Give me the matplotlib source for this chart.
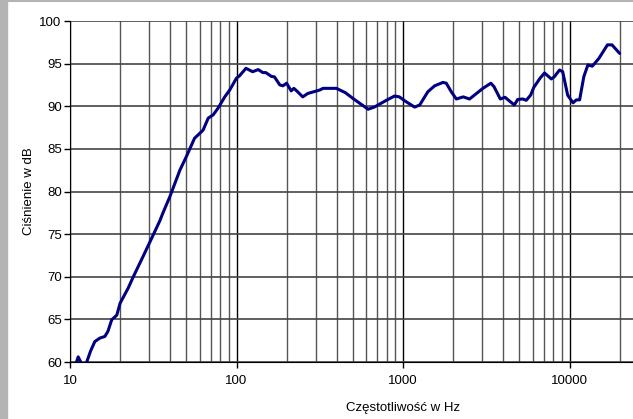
import numpy as np
import matplotlib
matplotlib.use("Agg")
import matplotlib.pyplot as plt
from matplotlib.ticker import LogLocator, FuncFormatter, NullFormatter, MultipleLocator
from matplotlib.patches import Rectangle
from matplotlib.lines import Line2D

# dane: czestotliwosc [Hz] i cisnienie [dB]
freq = [10.8, 10.9, 11.2, 11.6, 12.0, 12.6, 13.3, 14.1, 15.1, 16.2, 16.9, 17.8,
        19.1, 20, 22.4, 24, 27.5, 31.6, 34.7, 36, 39.8, 45.7, 50, 56, 60, 63,
        67.6, 72.5, 77.6, 85, 91, 100, 104, 114, 125, 135, 144, 150, 162, 169,
        182, 190, 200, 213, 221, 230, 250, 268, 316, 331, 398, 450, 502, 617,
        672, 795, 890, 950, 1050, 1175, 1260, 1410, 1550, 1740, 1820, 1950,
        2090, 2300, 2510, 3020, 3370, 3520, 3840, 4100, 4660, 4890, 5240, 5500,
        5840, 6100, 6660, 7080, 7780, 8100, 8710, 9100, 9750, 10500, 11000,
        11500, 12200, 12900, 13700, 15000, 16900, 18000, 20000]
spl = [59.0, 59.9, 60.6, 60.0, 59.4, 60.0, 61.3, 62.4, 62.8, 63.0, 63.6, 64.95,
       65.5, 66.9, 68.7, 70.0, 72.4, 74.9, 76.6, 77.4, 79.4, 82.5, 84.1, 86.25,
       86.8, 87.2, 88.6, 89.0, 89.8, 91.1, 91.9, 93.3, 93.55, 94.45, 94.05,
       94.3, 93.95, 93.95, 93.5, 93.45, 92.5, 92.4, 92.7, 91.8, 92.1, 91.8,
       91.1, 91.5, 91.9, 92.1, 92.1, 91.6, 90.9, 89.65, 89.9, 90.7, 91.2, 91.1,
       90.5, 89.9, 90.15, 91.7, 92.4, 92.8, 92.7, 91.7, 90.85, 91.1, 90.85,
       92.1, 92.7, 92.3, 90.85, 91.05, 90.15, 90.8, 90.85, 90.7, 91.3, 92.2,
       93.3, 93.9, 93.2, 93.45, 94.25, 94.05, 91.3, 90.4, 90.75, 90.75, 93.5,
       94.85, 94.7, 95.6, 97.2, 97.2, 96.2]

plt.rcParams['font.family'] = ['Liberation Sans', 'DejaVu Sans']

fig = plt.figure(figsize=(6.33, 4.19), dpi=100)
# obszar wykresu jest przyciety z prawej strony (os do 100000 Hz)
ax = fig.add_axes([70 / 633, 1 - 362 / 419, 666 / 633, 341 / 419])

ax.plot(freq, spl, color='#000080', linewidth=2.2, solid_joinstyle='round',
        solid_capstyle='round')

ax.set_xscale('log')
ax.set_xlim(10, 100000)
ax.set_ylim(60, 100)

ax.xaxis.set_major_locator(LogLocator(base=10, numticks=10))
ax.xaxis.set_minor_locator(LogLocator(base=10, subs=np.arange(2, 10), numticks=20))
# etykieta 100000 lezy poza obrazkiem, wiec jej nie pokazujemy
ax.xaxis.set_major_formatter(FuncFormatter(lambda v, p: f"{v:.0f}" if v <= 10000 else ""))
ax.xaxis.set_minor_formatter(NullFormatter())
ax.yaxis.set_major_locator(MultipleLocator(5))

ax.grid(True, which='major', axis='x', color='black', linewidth=1.0)
ax.grid(True, which='minor', axis='x', color='#555555', linewidth=1.0)
ax.grid(True, which='major', axis='y', color='#444444', linewidth=1.2)

ax.tick_params(axis='both', which='major', direction='out', length=4, width=1,
               labelsize=9.5, pad=2, color='black')
ax.tick_params(axis='x', which='minor', length=0)
ax.tick_params(axis='x', pad=5)

for s in ['top', 'right']:
    ax.spines[s].set_visible(False)
ax.spines['left'].set_color('black')
ax.spines['bottom'].set_color('black')

ax.set_xlabel("Częstotliwość w Hz", fontsize=9.5, labelpad=11)
ax.set_ylabel("Ciśnienie w dB", fontsize=9.5, labelpad=3)

# szara ramka jak w arkuszu
fig.add_artist(Rectangle((0, 0), 7 / 633, 1, transform=fig.transFigure,
                         color='#b4b4b4', zorder=10))
fig.add_artist(Line2D([0, 1], [1 - 1 / 419, 1 - 1 / 419], transform=fig.transFigure,
                      color='#b4b4b4', linewidth=1.5))

fig.savefig("out.png", dpi=100)
